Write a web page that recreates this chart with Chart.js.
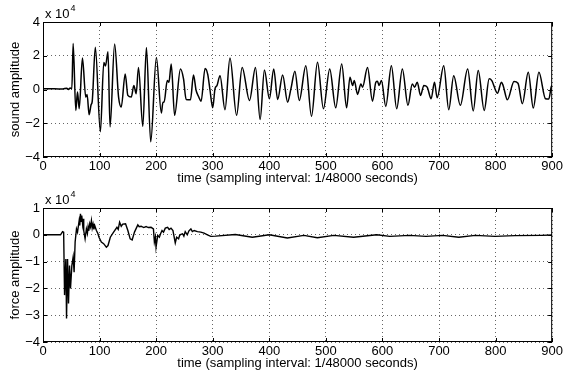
<!DOCTYPE html>
<html>
<head>
<meta charset="utf-8">
<script src="https://cdn.jsdelivr.net/npm/chart.js@4/dist/chart.umd.min.js"></script>
<style>
  body { margin: 0; background: #fff; }
  canvas { display: block; }
</style>
</head>
<body>
<canvas id="soundCanvas" width="565" height="186"></canvas>
<canvas id="forceCanvas" width="565" height="187"></canvas>
<script>
// values in units of 10^4
const soundT = [0, 20, 35, 42, 45, 48, 51, 53.3, 58, 61, 64, 69.7, 75.6, 78, 81.5, 85, 87, 92.5, 101.4, 107.5, 110.5, 114.9, 118.5, 126.6, 133.6, 138.3, 145.3, 150, 156, 160.6, 164.7, 168.8, 176.4, 182.8, 190.4, 200.4, 209.2, 212, 214, 219.7, 222.6, 226.7, 232.6, 243, 248.4, 253, 260.7, 266, 270.7, 274.8, 279.5, 286.5, 291.2, 295.3, 300, 304, 307.6, 312.9, 321.7, 330.5, 342.2, 352, 365, 375.6, 383.8, 391.4, 400.2, 407.8, 414.8, 423.6, 432.4, 438.3, 445.3, 453, 464.6, 474.6, 485.2, 495.7, 506.8, 517.4, 528, 536.7, 542.6, 547.3, 550.2, 556, 561.9, 564.8, 573.6, 582.4, 588.3, 591.2, 594.1, 598.2, 605.9, 615.8, 625.2, 635.2, 645.1, 652.7, 656.8, 661.5, 667.4, 673.2, 679.1, 686.1, 692, 696.7, 708.4, 717.2, 726, 737.7, 750.6, 760.5, 769.3, 779.9, 788.7, 793.3, 803.3, 810.3, 813.3, 820.9, 832.6, 839.6, 847.3, 857.8, 866.6, 876.6, 888.3, 894.1, 898.2, 900];
const soundV = [0.04, 0.04, 0.03, 0.08, 0.0, 0.09, 0.05, 2.73, -1.24, -0.15, -1.14, 1.86, -0.45, -0.3, -1.5, -0.9, -0.7, 2.5, -2.51, 1.6, 1.4, 2.24, -2.22, 2.69, -0.45, -1.04, 0.92, -0.35, -0.45, 0.24, -0.25, 1.31, -2.18, 2.49, -3.1, 1.9, -1.39, -0.75, -0.75, 0.53, 0.43, 1.51, -1.53, 1.22, 0.63, -0.59, -0.61, 0.86, -0.06, -0.4, -0.69, 1.25, 0.9, -0.06, -1.08, 0.04, 0.24, 0.82, -1.2, 1.86, -1.53, 1.31, -0.65, 1.31, -1.78, 1.16, -0.55, 1.22, -0.59, 0.86, -0.75, 0.05, 1.08, -0.65, 1.41, -1.59, 1.61, -1.14, 1.22, -1.08, 1.51, -1.08, 0.73, 0.24, 0.53, -0.29, 0.33, 0.14, 1.31, -0.69, 0.43, 0.49, 0.24, 0.53, -1.0, 1.41, -1.14, 1.22, -0.94, 0.33, 0.14, 0.43, -0.35, 0.24, 0.14, -0.55, 0.43, -0.49, 1.41, -1.2, 0.82, -0.94, 1.22, -1.27, 1.12, -1.24, 0.63, 0.53, -0.22, 0.43, 0.24, -0.61, 0.47, 0.37, -0.84, 1.02, -1.1, 1.02, -0.55, -0.57, 0.14, 0.26];

const forceT = [0, 20, 31, 34.6, 36.5, 38.1, 40.4, 41.6, 43.4, 45.1, 46.9, 48.6, 51, 53.3, 55, 56.8, 59.2, 61, 63.9, 65, 66.2, 67.3, 68.5, 70, 71, 72, 74.4, 76.7, 78.5, 79.7, 81, 82.6, 84, 85.6, 87, 88.5, 90, 91.4, 94.4, 97, 99, 103.1, 107.2, 112, 114.9, 119, 124.8, 130.7, 133, 135.4, 138.3, 141, 145.9, 150, 154.1, 157.6, 161.7, 167.6, 170, 173.5, 178, 182.2, 186, 191, 195.2, 196.9, 198.7, 199.8, 202.8, 205.7, 208, 210.4, 213, 216.2, 220.3, 223, 226.2, 229.7, 233.8, 236.2, 239.7, 241.5, 243.8, 246.7, 249, 251.4, 255, 258, 261.4, 264, 267.2, 273, 279, 284.8, 290.7, 296.5, 305, 340, 370, 400, 432, 461, 485, 514, 549, 590, 613, 648, 677, 706, 735, 764, 799, 834, 881, 900];
const forceV = [0, 0, 0, 0.12, 0.1, -2.25, -0.9, -3.12, -0.9, -2.56, -1.15, -2.0, -1.15, -0.83, -1.4, -0.27, 0.22, 0.1, 0.53, 0.35, 0.78, 0.5, 0.72, 0.4, 0.6, 0.16, -0.15, 0.22, 0.05, 0.3, 0.15, 0.41, 0.3, 0.53, 0.25, 0.4, 0.2, 0.35, 0.16, 0.05, -0.09, -0.27, -0.33, -0.46, -0.4, -0.09, 0.1, 0.28, 0.2, 0.47, 0.32, 0.4, 0.41, 0.16, -0.15, -0.19, 0.1, 0.37, 0.3, 0.32, 0.27, 0.31, 0.27, 0.28, 0.22, -0.27, -0.09, -0.46, -0.02, -0.09, 0.05, 0.16, 0.1, 0.25, 0.28, 0.2, 0.25, 0.16, -0.3, -0.09, -0.15, -0.02, 0.02, 0.04, -0.05, 0.12, 0.0, 0.15, 0.22, 0.12, 0.16, 0.12, 0.1, 0.06, 0.0, -0.06, -0.05, 0.01, -0.09, 0, -0.12, -0.02, -0.11, -0.02, -0.09, 0, -0.06, -0.02, -0.06, -0.02, -0.09, -0.02, -0.06, -0.03, -0.02, -0.01];

const xTicks = [0, 100, 200, 300, 400, 500, 600, 700, 800, 900];
const soundTicks = [-4, -2, 0, 2, 4];
const forceTicks = [-4, -3, -2, -1, 0, 1];
const xTitle = "time (sampling interval: 1/48000 seconds)";
const exponent = "4";

const FONT = '"Liberation Sans", Arial, Helvetica, sans-serif';
const FS = 13;

const boxPlugin = {
  id: 'box',
  afterDraw(chart) {
    const {ctx, chartArea: a, scales} = chart;
    ctx.save();
    ctx.strokeStyle = '#000';
    ctx.lineWidth = 1;
    ctx.strokeRect(a.left + 0.5, a.top + 0.5, a.right - a.left - 1, a.bottom - a.top - 1);
    ctx.beginPath();
    scales.x.ticks.forEach(t => {
      const px = Math.round(scales.x.getPixelForValue(t.value)) + 0.5;
      ctx.moveTo(px, a.bottom); ctx.lineTo(px, a.bottom - 4);
      ctx.moveTo(px, a.top); ctx.lineTo(px, a.top + 4);
    });
    scales.y.ticks.forEach(t => {
      const py = Math.round(scales.y.getPixelForValue(t.value)) + 0.5;
      ctx.moveTo(a.left, py); ctx.lineTo(a.left + 4, py);
      ctx.moveTo(a.right, py); ctx.lineTo(a.right - 4, py);
    });
    ctx.stroke();
    ctx.fillStyle = '#000';
    ctx.font = FS + 'px ' + FONT;
    ctx.textBaseline = 'alphabetic';
    ctx.textAlign = 'left';
    const base = 'x 10';
    ctx.fillText(base, a.left + 2, a.top - 4);
    const w = ctx.measureText(base).width;
    ctx.font = '9px ' + FONT;
    ctx.fillText(exponent, a.left + 3 + w, a.top - 11);
    ctx.restore();
  }
};

function makeChart(id, xs, ys, ticks, yTitle, lineW, smooth, xH, titlePad) {
  const pts = xs.map((x, i) => ({x: x, y: ys[i]}));
  return new Chart(document.getElementById(id), {
    type: 'line',
    data: {
      datasets: [{
        data: pts,
        borderColor: '#000',
        borderWidth: lineW,
        pointRadius: 0,
        fill: false,
        cubicInterpolationMode: smooth ? 'monotone' : 'default',
        tension: 0
      }]
    },
    options: {
      responsive: false,
      animation: false,
      events: [],
      layout: { padding: { top: 22, right: 10, left: 0, bottom: 0 } },
      plugins: { legend: { display: false }, tooltip: { enabled: false } },
      scales: {
        x: {
          type: 'linear',
          min: 0, max: 900,
          afterBuildTicks: s => { s.ticks = xTicks.map(v => ({value: v})); },
          afterFit: s => { s.height = xH; },
          grid: { color: '#666', lineWidth: 1, drawTicks: false },
          border: { display: false, dash: [1, 3] },
          ticks: { color: '#000', font: { size: FS, family: FONT }, padding: 2, maxRotation: 0 },
          title: { display: true, text: xTitle, color: '#000', font: { size: FS, family: FONT }, padding: { top: 0, bottom: titlePad } }
        },
        y: {
          type: 'linear',
          min: ticks[0], max: ticks[ticks.length - 1],
          afterBuildTicks: s => { s.ticks = ticks.map(v => ({value: v})); },
          afterFit: s => { s.width = 43; },
          grid: { color: '#666', lineWidth: 1, drawTicks: false },
          border: { display: false, dash: [1, 3] },
          ticks: { color: '#000', font: { size: FS, family: FONT }, padding: 3,
                   callback: v => String(v).replace('-', '\u2212') },
          title: { display: true, text: yTitle, color: '#000', font: { size: FS, family: FONT }, padding: { top: 8, bottom: 0 } }
        }
      }
    },
    plugins: [boxPlugin]
  });
}

makeChart('soundCanvas', soundT, soundV, soundTicks, 'sound amplitude', 1.5, true, 29, 0);
makeChart('forceCanvas', forceT, forceV, forceTicks, 'force amplitude', 1.4, false, 31, 2);
</script>
</body>
</html>
